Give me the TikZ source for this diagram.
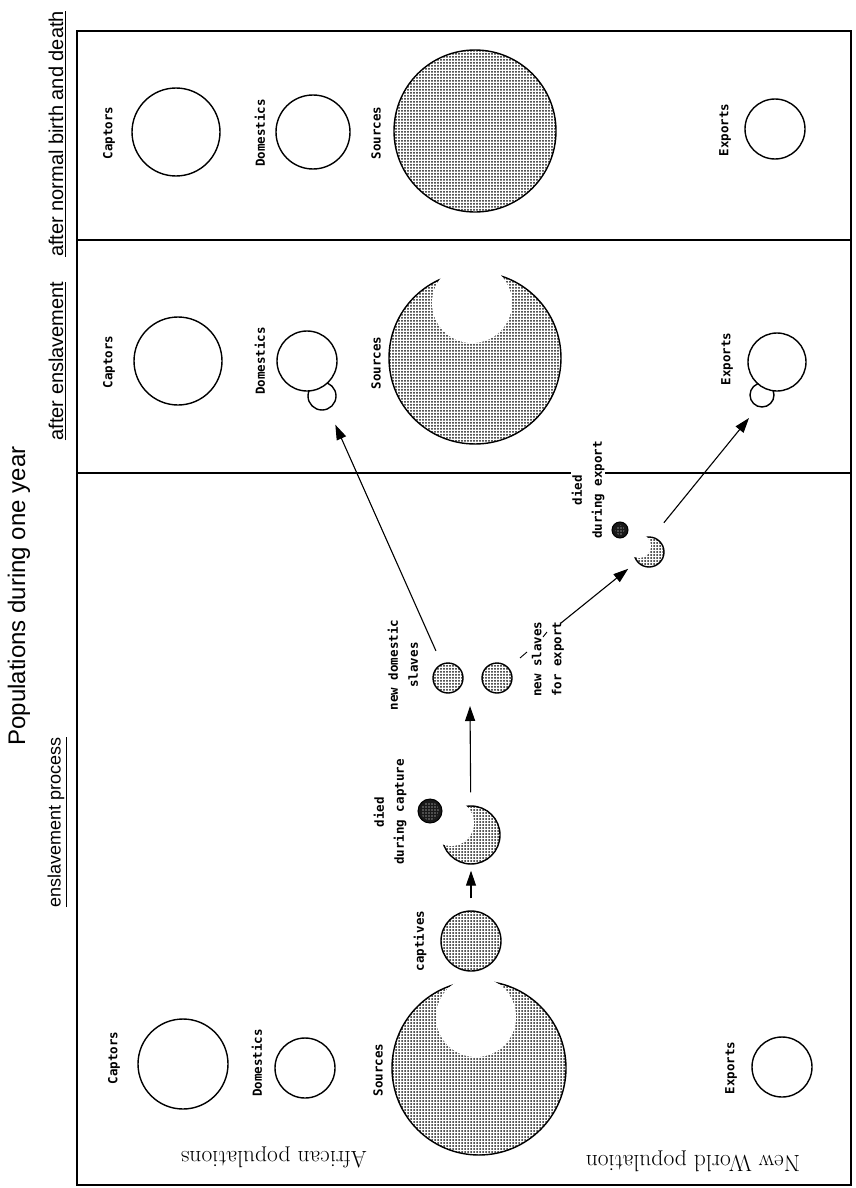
\documentclass[tikz,border=0pt]{standalone}
\usepackage{fontspec}
\newfontfamily\labfont{DejaVu Sans Mono}
\newfontfamily\headfont{Liberation Sans}
\usetikzlibrary{arrows.meta,patterns,patterns.meta}

% screen of round dots used for the enslaved populations
\tikzdeclarepattern{
  name=screendots,
  type=uncolored,
  bounding box={(-1.5pt,-1.5pt) and (1.5pt,1.5pt)},
  tile size={(3pt,3pt)},
  code={\fill (0pt,0pt) circle[radius=1pt];}
}
% finer screen for the dead
\tikzdeclarepattern{
  name=finedots,
  type=uncolored,
  bounding box={(-1.5pt,-1.5pt) and (1.5pt,1.5pt)},
  tile size={(3pt,3pt)},
  code={\fill (0pt,0pt) circle[radius=0.6pt];}
}

\begin{document}
\begin{tikzpicture}[x=1pt,y=-1pt,
  frame/.style={line width=1.4pt},
  pop/.style={circle, draw, line width=1.4pt, inner sep=0pt, fill=white},
  shadedpop/.style={circle, draw, line width=1.4pt, inner sep=0pt, pattern=screendots, pattern color=black!90},
  deadpop/.style={circle, draw, line width=1pt, inner sep=0pt, fill=black!90},
  lab/.style={rotate=90, font=\labfont\bfseries\fontsize{12.5}{20}\selectfont, align=center, inner sep=1pt},
  head/.style={rotate=90, font=\headfont\fontsize{20}{24}\selectfont, inner sep=0pt},
  region/.style={rotate=180, font=\fontsize{23.5}{28}\selectfont, inner sep=0pt},
  arr/.style={line width=1.1pt, -{Triangle[length=15pt,width=10pt]}},
  tick/.style={line width=0.9pt},
]
\useasboundingbox (0,0) rectangle (855,1188);

% titles
\node[rotate=90, font=\headfont\fontsize{24}{28}\selectfont, inner sep=0pt] (title) at (19,596) {Populations during one year};
\node[head] (hdnormal) at (57,134) {\underline{after normal birth and death}};
\node[head] (hdenslaved) at (57,361) {\underline{after enslavement}};
\node[head, font=\headfont\fontsize{18}{22}\selectfont] (hdprocess) at (57,822) {\underline{enslavement process}};

% frame and panel dividers
\draw[frame] (77,31) rectangle (851,1185);
\draw[frame] (77,240) -- (851,240);
\draw[frame] (77,473) -- (851,473);

% panel: after normal birth and death
\node[pop, minimum size=88pt] (capT) at (176,132) {};
\node[pop, minimum size=74pt] (domT) at (313,132) {};
\node[shadedpop, minimum size=162pt] (srcT) at (475,131) {};
\node[pop, minimum size=60pt] (expT) at (775,129) {};
\node[lab] (lcapT) at (109,133) {Captors};
\node[lab] (ldomT) at (260,133) {Domestics};
\node[lab] (lsrcT) at (376,133) {Sources};
\node[lab] (lexpT) at (725,130) {Exports};

% panel: after enslavement
\node[pop, minimum size=88pt] (capM) at (178,361) {};
\node[pop, minimum size=28pt] (domMs) at (322,396) {};
\node[pop, minimum size=60pt] (domM) at (307,361) {};
\node[shadedpop, minimum size=172pt] (srcM) at (475,358) {};
\fill[white] (472,303) circle[radius=40pt];
\node[pop, minimum size=24pt] (expMs) at (762,395) {};
\node[pop, minimum size=58pt] (expM) at (777,362) {};
\node[lab] (lcapM) at (109,362) {Captors};
\node[lab] (ldomM) at (260,361) {Domestics};
\node[lab] (lsrcM) at (376,363) {Sources};
\node[lab] (lexpM) at (727,359) {Exports};

% panel: enslavement process, standing populations
\node[pop, minimum size=90pt] (capB) at (183,1064) {};
\node[pop, minimum size=60pt] (domB) at (305,1068) {};
\node[shadedpop, minimum size=174pt] (srcB) at (479,1068) {};
\fill[white] (476,1017) circle[radius=40pt];
\node[pop, minimum size=60pt] (expB) at (782,1067) {};
\node[lab] (lcapB) at (114,1058) {Captors};
\node[lab] (ldomB) at (257,1063) {Domestics};
\node[lab] (lsrcB) at (378,1070) {Sources};
\node[lab] (lexpB) at (731,1068) {Exports};

\node[region] (african) at (274,1158) {African populations};
\node[region] (newworld) at (693,1161) {New World population};

% captives and losses during capture
\node[shadedpop, minimum size=60pt] (captives) at (471,941) {};
\node[lab] (lcaptives) at (420,941) {captives};
\node[shadedpop, minimum size=58pt] (crescap) at (471,835) {};
\fill[white] (451,823) circle[radius=23pt];
\node[deadpop, minimum size=24pt] (deadcap) at (430,811) {};
\fill[pattern=finedots, pattern color=white] (deadcap.center) circle[radius=9pt];
\node[lab] (ldiedcap) at (390,812) {died\\during capture};

% new slaves
\node[shadedpop, minimum size=30pt] (newdom) at (448,678) {};
\node[shadedpop, minimum size=30pt] (newexp) at (497,678) {};
\node[lab] (lnewdom) at (403,665) {new domestic\\slaves};
\node[lab, align=left, anchor=west] (lnewexp) at (548,698) {new slaves\\for export};
\draw[tick] (520,658) -- (527,652);
\draw[tick] (543,637) -- (547,632);

% losses during export
\node[shadedpop, minimum size=30pt] (cresexp) at (649,552) {};
\fill[white] (639,546) circle[radius=12pt];
\node[deadpop, minimum size=16pt] (deadexp) at (620,530) {};
\fill[pattern=finedots, pattern color=white] (deadexp.center) circle[radius=5pt];
\node[lab, fill=white] (ldiedexp) at (588,490) {died\\during export};

% flows
\coordinate (fork) at (470,706);
\coordinate (expstart) at (561,623);
\coordinate (expto) at (749,418);
\draw[arr, shorten <=12pt, shorten >=6pt] (captives) -- (crescap);
\draw[arr, shorten <=13pt] (crescap) -- (fork);
\draw[arr, shorten <=14pt, shorten >=39pt] (newdom) -- (domM);
\draw[arr, shorten >=11pt] (expstart) -- (cresexp);
\draw[arr, shorten <=18pt] (cresexp.77) -- (expto);
\end{tikzpicture}
\end{document}
